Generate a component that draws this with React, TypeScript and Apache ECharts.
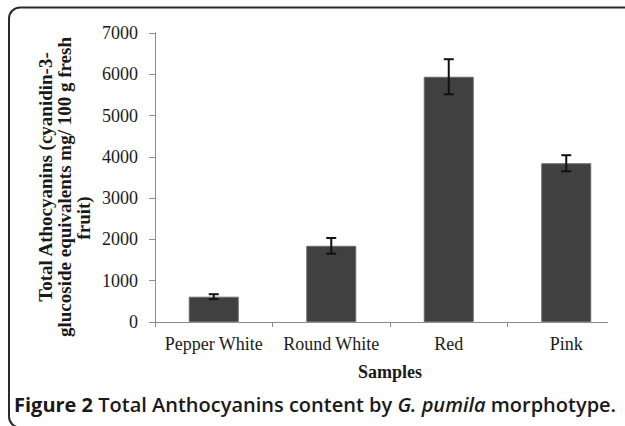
import React, { useEffect, useRef } from "react";
import * as echarts from "echarts";

const categories = ["Pepper White", "Round White", "Red", "Pink"];
const values = [613, 1845, 5940, 3845];
const errors = [60, 190, 425, 195];
const yTicks = [0, 1000, 2000, 3000, 4000, 5000, 6000, 7000];
const yTitleLines = [
  "Total Athocyanins (cyanidin-3-",
  "glucoside equivalents mg/ 100 g fresh",
  "fruit)",
];
const xTitle = "Samples";
const captionBold = "Figure 2";
const captionPre = " Total Anthocyanins content by ";
const captionItalic = "G. pumila";
const captionPost = " morphotype.";

export default function App() {
  const ref = useRef<HTMLDivElement>(null);
  useEffect(() => {
    document.body.style.margin = "0";
    const chart = echarts.init(ref.current!, null, { renderer: "svg" });
    const serif = "'Liberation Serif', 'Times New Roman', serif";
    const sans = "'Open Sans', sans-serif";
    const errData = values.map((v, i) => [i, v - errors[i], v + errors[i]]);
    chart.setOption({
      animation: false,
      backgroundColor: "#ffffff",
      grid: { left: 155, top: 33, height: 289, width: 492, containLabel: false },
      xAxis: {
        type: "category",
        data: categories,
        name: xTitle,
        nameLocation: "middle",
        nameGap: 41,
        nameTextStyle: { fontFamily: serif, fontSize: 18, fontWeight: "bold", color: "#1a1a1a" },
        axisLine: { show: true, lineStyle: { color: "#8c8c8c", width: 1 } },
        axisTick: { show: true, length: 5, alignWithLabel: false, lineStyle: { color: "#8c8c8c" } },
        axisLabel: { fontFamily: serif, fontSize: 18, color: "#1a1a1a", margin: 13, interval: 0 },
        splitLine: { show: false },
      },
      yAxis: {
        type: "value",
        min: 0,
        max: yTicks[yTicks.length - 1],
        interval: yTicks[1] - yTicks[0],
        axisLine: { show: true, lineStyle: { color: "#8c8c8c", width: 1 } },
        axisTick: { show: true, length: 6, lineStyle: { color: "#8c8c8c" } },
        axisLabel: {
          fontFamily: serif,
          fontSize: 18,
          color: "#1a1a1a",
          margin: 17,
          formatter: (v: number) => String(v),
        },
        splitLine: { show: false },
      },
      series: [
        {
          type: "bar",
          data: values,
          barWidth: 50,
          itemStyle: { color: "#404040", borderColor: "#6a6a6a", borderWidth: 1 },
        },
        {
          type: "custom",
          data: errData,
          z: 10,
          renderItem: (params: any, api: any) => {
            const x = api.value(0);
            const lo = api.coord([x, api.value(1)]);
            const hi = api.coord([x, api.value(2)]);
            const cx = lo[0];
            const hw = 5;
            const style = { stroke: "#111111", lineWidth: 2 };
            return {
              type: "group",
              children: [
                { type: "line", shape: { x1: cx, y1: lo[1], x2: cx, y2: hi[1] }, style },
                { type: "line", shape: { x1: cx - hw, y1: hi[1], x2: cx + hw, y2: hi[1] }, style },
                { type: "line", shape: { x1: cx - hw, y1: lo[1], x2: cx + hw, y2: lo[1] }, style },
              ],
            };
          },
        },
      ],
      graphic: [
        { type: "rect", z: 100, shape: { x: 608, y: 14, width: 20, height: 350 }, style: { fill: "#ffffff" } },
        ...yTitleLines.map((t, i) => ({
          type: "text",
          z: 100,
          x: [45, 64, 83][i],
          y: [177, 187, 218][i],
          rotation: Math.PI / 2,
          style: {
            text: t,
            fontFamily: serif,
            fontSize: 19,
            fontWeight: "bold",
            fill: "#1a1a1a",
            align: "center",
            verticalAlign: "middle",
          },
        })),
        {
          type: "text",
          z: 100,
          x: 14,
          y: 404,
          style: {
            text: `{b|${captionBold}}{n|${captionPre}}{i|${captionItalic}}{n|${captionPost}}`,
            verticalAlign: "middle",
            rich: {
              b: { fontFamily: sans, fontSize: 20, fontWeight: "bold", fill: "#1a1a1a" },
              n: { fontFamily: sans, fontSize: 20, fontWeight: 600, fill: "#1a1a1a" },
              i: { fontFamily: sans, fontSize: 20, fontWeight: 600, fontStyle: "italic", fill: "#1a1a1a" },
            },
          },
        },
        {
          type: "rect",
          z: 101,
          shape: { x: 9, y: 7.5, width: 650, height: 420, r: 11 },
          style: { fill: "none", stroke: "#2a2a2a", lineWidth: 2 },
        },
      ],
    });
    return () => chart.dispose();
  }, []);
  return <div ref={ref} style={{ position: "fixed", left: 0, top: 0, width: 625, height: 426 }} />;
}
